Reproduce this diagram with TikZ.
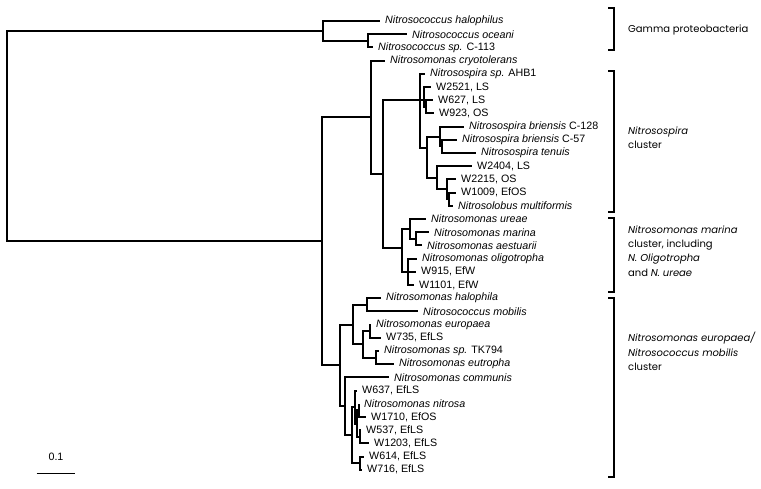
\documentclass[tikz,border=0pt]{standalone}
\usepackage{fontspec}
\setmainfont{Liberation Sans}
\newfontfamily\gothicfont{Poppins}

\tikzset{
  branch/.style={line width=2pt},
  taxon/.style={anchor=west, inner xsep=5pt, inner ysep=1pt, font=\fontsize{10.7}{12}\selectfont},
  clade/.style={line width=2pt},
  cladename/.style={anchor=west, align=left, inner sep=0pt, font=\gothicfont\fontsize{10}{14.4}\selectfont},
}

\begin{document}
\begin{tikzpicture}[x=1pt,y=-1pt]
    \useasboundingbox (0,0) rectangle (761,488);

    % Nos internos
    \coordinate (R) at (7,136);
    \coordinate (G) at (323,30.9);
    \coordinate (G2) at (368,40.8);
    \coordinate (B) at (322,241.4);
    \coordinate (B1) at (371,117.4);
    \coordinate (B11) at (383,174.1);
    \coordinate (Ns) at (420,100.2);
    \coordinate (WA) at (424,100.2);
    \coordinate (WA2) at (426,106.8);
    \coordinate (Ns3) at (427,148);
    \coordinate (Ns4) at (440,136.5);
    \coordinate (Ns5) at (442,146.4);
    \coordinate (Ns6) at (437,177.8);
    \coordinate (Ns7) at (447,189.3);
    \coordinate (Ns8) at (449,199.2);
    \coordinate (M) at (402,248);
    \coordinate (M1) at (410,228.9);
    \coordinate (M2) at (416,238.8);
    \coordinate (M3) at (408,271.8);
    \coordinate (B2) at (340,365.3);
    \coordinate (E1) at (353,324.6);
    \coordinate (H) at (367,304.8);
    \coordinate (E2) at (363,344.4);
    \coordinate (E3) at (370,331.2);
    \coordinate (E4) at (376,357.6);
    \coordinate (C1) at (345,406);
    \coordinate (C2) at (352,435);
    \coordinate (C3) at (355,407);
    \coordinate (C4) at (357,423.6);
    \coordinate (C4a) at (359,410.4);
    \coordinate (C4b) at (360,436.8);
    \coordinate (C5) at (360,463.2);

    % Folhas
    \node[taxon] (hal) at (380,21) {\textit{Nitrosococcus halophilus}};
    \node[taxon] (oce) at (407,34.2) {\textit{Nitrosococcus oceani}};
    \node[taxon] (c113) at (373,47.4) {\textit{Nitrosococcus sp.} C-113};
    \node[taxon] (cryo) at (385,60.6) {\textit{Nitrosomonas cryotolerans}};
    \node[taxon] (ahb1) at (425,73.8) {\textit{Nitrosospira sp.} AHB1};
    \node[taxon] (w2521) at (431,87) {W2521, LS};
    \node[taxon] (w627) at (433,100.2) {W627, LS};
    \node[taxon] (w923) at (434,113.4) {W923, OS};
    \node[taxon] (c128) at (464,126.6) {\textit{Nitrosospira briensis} C-128};
    \node[taxon] (c57) at (457,139.8) {\textit{Nitrosospira briensis} C-57};
    \node[taxon] (ten) at (476,153) {\textit{Nitrosospira tenuis}};
    \node[taxon] (w2404) at (472,166.2) {W2404, LS};
    \node[taxon] (w2215) at (456,179.4) {W2215, OS};
    \node[taxon] (w1009) at (456,192.6) {W1009, EfOS};
    \node[taxon] (mult) at (453,205.8) {\textit{Nitrosolobus multiformis}};
    \node[taxon] (ure) at (426,219) {\textit{Nitrosomonas ureae}};
    \node[taxon] (mar) at (429,232.2) {\textit{Nitrosomonas marina}};
    \node[taxon] (aes) at (422,245.4) {\textit{Nitrosomonas aestuarii}};
    \node[taxon] (oli) at (417,258.6) {\textit{Nitrosomonas oligotropha}};
    \node[taxon] (w915) at (416,271.8) {W915, EfW};
    \node[taxon] (w1101) at (414,285) {W1101, EfW};
    \node[taxon] (hala) at (381,298.2) {\textit{Nitrosomonas halophila}};
    \node[taxon] (mob) at (418,311.4) {\textit{Nitrosococcus mobilis}};
    \node[taxon] (eur) at (371,324.6) {\textit{Nitrosomonas europaea}};
    \node[taxon] (w735) at (381,337.8) {W735, EfLS};
    \node[taxon] (tk794) at (379,351) {\textit{Nitrosomonas sp.} TK794};
    \node[taxon] (eut) at (394,364.2) {\textit{Nitrosomonas eutropha}};
    \node[taxon] (com) at (389,377.4) {\textit{Nitrosomonas communis}};
    \node[taxon] (w637) at (357,390.6) {W637, EfLS};
    \node[taxon] (nit) at (359,403.8) {\textit{Nitrosomonas nitrosa}};
    \node[taxon] (w1710) at (366,417) {W1710, EfOS};
    \node[taxon] (w537) at (361,430.2) {W537, EfLS};
    \node[taxon] (w1203) at (369,443.4) {W1203, EfLS};
    \node[taxon] (w614) at (364,456.6) {W614, EfLS};
    \node[taxon] (w716) at (362,469.8) {W716, EfLS};

    % Ramos
    \draw[branch] (R) |- (G) (R) |- (B);
    \draw[branch] (G) |- (hal.west) (G) |- (G2);
    \draw[branch] (G2) |- (oce.west) (G2) |- (c113.west);
    \draw[branch] (B) |- (B1) (B) |- (B2);
    \draw[branch] (B1) |- (cryo.west) (B1) |- (B11);
    \draw[branch] (B11) |- (Ns) (B11) |- (M);
    \draw[branch] (Ns) |- (ahb1.west) (Ns) |- (WA) (Ns) |- (Ns3);
    \draw[branch] (WA) |- (w2521.west) (WA) |- (WA2);
    \draw[branch] (WA2) |- (w627.west) (WA2) |- (w923.west);
    \draw[branch] (Ns3) |- (Ns4) (Ns3) |- (Ns6);
    \draw[branch] (Ns4) |- (c128.west) (Ns4) |- (Ns5);
    \draw[branch] (Ns5) |- (c57.west) (Ns5) |- (ten.west);
    \draw[branch] (Ns6) |- (w2404.west) (Ns6) |- (Ns7);
    \draw[branch] (Ns7) |- (w2215.west) (Ns7) |- (Ns8);
    \draw[branch] (Ns8) |- (w1009.west) (Ns8) |- (mult.west);
    \draw[branch] (M) |- (M1) (M) |- (M3);
    \draw[branch] (M1) |- (ure.west) (M1) |- (M2);
    \draw[branch] (M2) |- (mar.west) (M2) |- (aes.west);
    \draw[branch] (M3) |- (oli.west) (M3) |- (w915.west) (M3) |- (w1101.west);
    \draw[branch] (B2) |- (E1) (B2) |- (C1);
    \draw[branch] (E1) |- (H) (E1) |- (E2);
    \draw[branch] (H) |- (hala.west) (H) |- (mob.west);
    \draw[branch] (E2) |- (E3) (E2) |- (E4);
    \draw[branch] (E3) |- (eur.west) (E3) |- (w735.west);
    \draw[branch] (E4) |- (tk794.west) (E4) |- (eut.west);
    \draw[branch] (C1) |- (com.west) (C1) |- (C2);
    \draw[branch] (C2) |- (C3) (C2) |- (C5);
    \draw[branch] (C3) |- (w637.west) (C3) |- (C4);
    \draw[branch] (C4) |- (C4a) (C4) |- (C4b);
    \draw[branch] (C4a) |- (nit.west) (C4a) |- (w1710.west);
    \draw[branch] (C4b) |- (w537.west) (C4b) |- (w1203.west);
    \draw[branch] (C5) |- (w614.west) (C5) |- (w716.west);

    % Escala
    \coordinate (sb1) at (36.7,473.3);
    \coordinate (sb2) at (75,473.3);
    \draw[line width=1.4pt] (sb1) -- (sb2);
    \node[font=\fontsize{10.7}{12}\selectfont] (scale) at (56,457) {0.1};

    % Grupos
    \draw[clade] (608,8.3) -- (614,8.3) -- (614,50) -- (608,50);
    \draw[clade] (608,71) -- (614,71) -- (614,211.7) -- (608,211.7);
    \draw[clade] (608,218.3) -- (614,218.3) -- (614,291.7) -- (608,291.7);
    \draw[clade] (608,298.3) -- (614,298.3) -- (614,476.7) -- (608,476.7);

    \node[cladename] (gamma) at (628,30) {Gamma proteobacteria};
    \node[cladename] (spira) at (628,138) {\textit{Nitrosospira}\\cluster};
    \node[cladename] (marina) at (628,251) {\textit{Nitrosomonas marina}\\cluster, including\\\textit{N. Oligotropha}\\and \textit{N. ureae}};
    \node[cladename] (europaea) at (628,351.7) {\textit{Nitrosomonas europaea/}\\\textit{Nitrosococcus mobilis}\\cluster};

\end{tikzpicture}
\end{document}
